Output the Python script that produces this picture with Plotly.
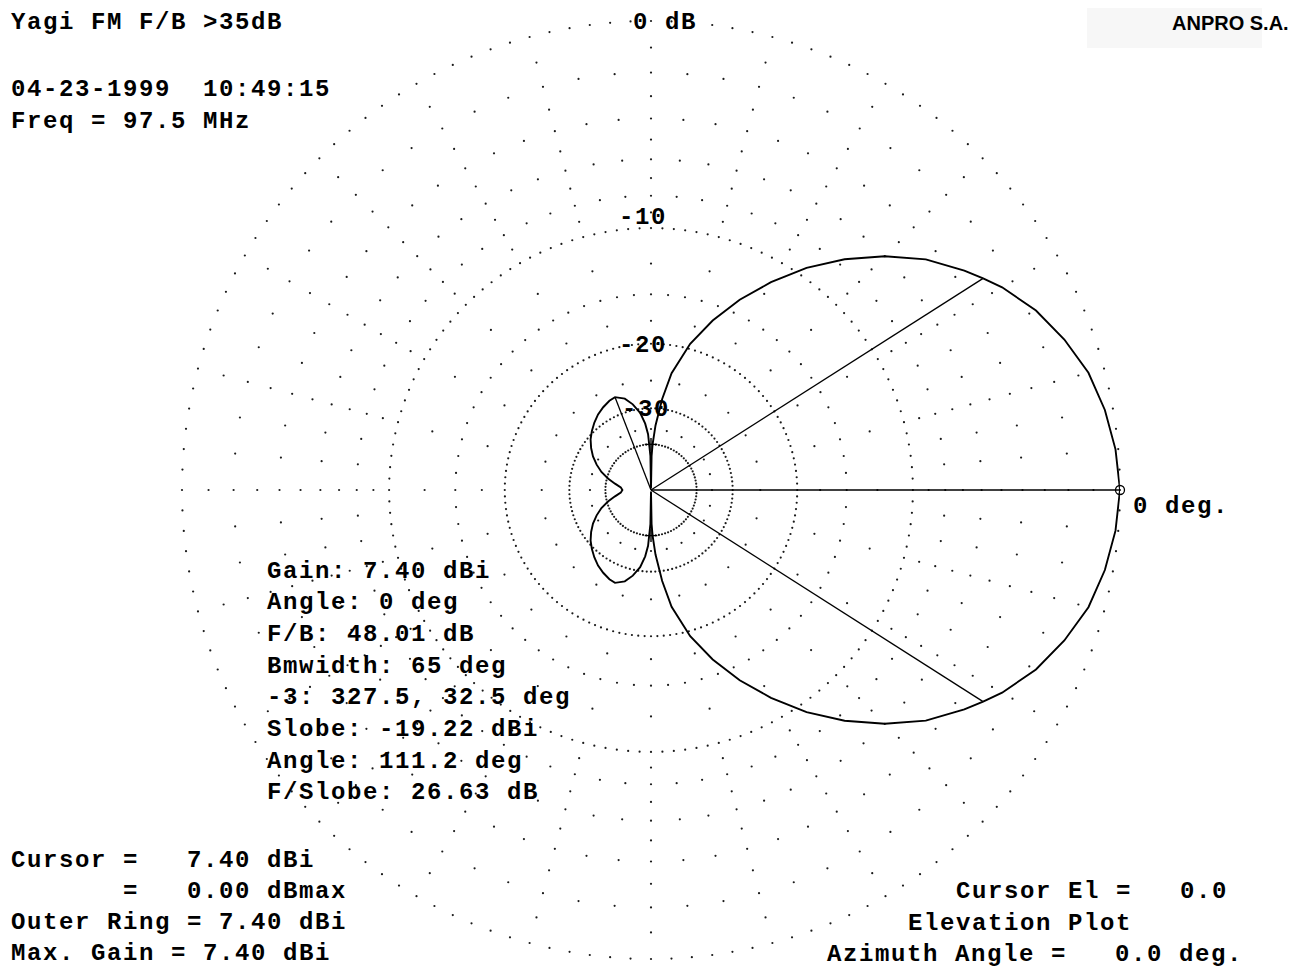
import plotly.graph_objects as go

W, H = 1291, 968

# ---------------- data ----------------
pattern_deg = [0, 5, 10, 15, 20, 25, 30, 32.5, 35, 40, 45, 50, 55, 60, 65, 70, 75, 80, 83, 86, 88, 89,
               90, 91, 93, 95, 98, 102, 106, 111.2, 115, 120, 125, 130, 135, 140, 145, 150, 155, 160,
               165, 170, 175, 180, 185, 190, 195, 200, 205, 210, 215, 220, 225, 230, 235, 240, 245,
               248.8, 254, 258, 262, 265, 267, 269, 270, 271, 272, 274, 277, 280, 285, 290, 295, 300,
               305, 310, 315, 320, 325, 327.5, 330, 335, 340, 345, 350, 355, 360]
pattern_db = [0.0, -0.1, -0.3, -0.6, -1.1, -1.7, -2.5, -3.0, -3.5, -4.6, -6.0, -7.6, -9.4, -11.5, -13.8,
              -16.4, -19.4, -23.6, -28.0, -34.0, -40.0, -45.0,
              -99.0, -45.0, -36.5, -33.5, -30.8, -28.8, -27.4, -26.6, -26.8, -27.3, -27.9, -28.7, -29.6,
              -30.6, -31.9, -33.4, -35.3, -37.5, -40.4, -43.8, -47.0, -48.0, -47.0, -43.8, -40.4, -37.5,
              -35.3, -33.4, -31.9, -30.6, -29.6, -28.7, -27.9, -27.3, -26.8,
              -26.6, -27.4, -28.8, -30.8, -33.5, -36.5, -45.0, -99.0, -45.0, -40.0, -34.0, -28.0, -23.6,
              -19.4, -16.4, -13.8, -11.5, -9.4, -7.6, -6.0, -4.6, -3.5, -3.0, -2.5, -1.7, -1.1, -0.6,
              -0.3, -0.1, 0.0]

gain_dbi = 7.40
cursor_angle = 0.0
half_power_angles = [327.5, 32.5]
half_power_db = -3.0
slobe_dbi = -19.22
slobe_angle = 111.2

ring_db = [0, -10, -20, -30, -40]
ring_labels = ["0 dB", "-10", "-20", "-30"]
arc_db = [-2, -4, -6, -8, -15]
spoke_db = [-1, -3, -5, -7, -9, -12.5, -17.5, -25, -35]
floor_marks_deg = [90, 270]
floor_db = -40

info_lines = ["Gain: 7.40 dBi", "Angle: 0 deg", "F/B: 48.01 dB", "Bmwidth: 65 deg",
              "-3: 327.5, 32.5 deg", "Slobe: -19.22 dBi", "Angle: 111.2 deg", "F/Slobe: 26.63 dB"]
header_lines = ["Yagi FM F/B >35dB", "04-23-1999  10:49:15", "Freq = 97.5 MHz"]
cursor_lines = ["Cursor =   7.40 dBi", "       =   0.00 dBmax", "Outer Ring = 7.40 dBi",
                "Max. Gain = 7.40 dBi"]
right_lines = ["Cursor El =   0.0", "Elevation Plot", "Azimuth Angle =   0.0 deg."]


# ARRL log scale: radius factor 0.89 per 2 dB
def arrl(db):
    return 0.89 ** (-db / 2.0)


fig = go.Figure()
DOT = "#1a1a1a"

# ---- dotted grid ----
ring_counts = [144, 144, 144, 120, 90]
for db, n in zip(ring_db, ring_counts):
    th = [i * 360.0 / n for i in range(n)]
    fig.add_trace(go.Scatterpolar(r=[arrl(db)] * n, theta=th, mode="markers",
                                  marker=dict(size=2.2, color=DOT), hoverinfo="skip"))
for db in arc_db:
    th = [i * 5.0 for i in range(72)]
    fig.add_trace(go.Scatterpolar(r=[arrl(db)] * 72, theta=th, mode="markers",
                                  marker=dict(size=2.2, color=DOT), hoverinfo="skip"))
sp_r, sp_t = [], []
for k in range(24):
    for db in spoke_db:
        sp_r.append(arrl(db))
        sp_t.append(k * 15.0)
fig.add_trace(go.Scatterpolar(r=sp_r, theta=sp_t, mode="markers",
                              marker=dict(size=2.2, color=DOT), hoverinfo="skip"))

# ---- pattern ----
fig.add_trace(go.Scatterpolar(r=[arrl(d) for d in pattern_db], theta=pattern_deg, mode="lines",
                              line=dict(color="black", width=1.9), hoverinfo="skip"))

# floor tick marks on the vertical axis
fig.add_trace(go.Scatterpolar(r=[arrl(floor_db)] * len(floor_marks_deg), theta=floor_marks_deg,
                              mode="markers",
                              marker=dict(symbol="cross-thin", size=9, color="black",
                                          line=dict(width=1.4, color="black")), hoverinfo="skip"))

# ---- cursor / beamwidth / sidelobe radials ----
for ang in half_power_angles:
    fig.add_trace(go.Scatterpolar(r=[0, arrl(half_power_db)], theta=[ang, ang], mode="lines",
                                  line=dict(color="black", width=1.3), hoverinfo="skip"))
slobe_rel = slobe_dbi - gain_dbi
fig.add_trace(go.Scatterpolar(r=[0, arrl(slobe_rel)], theta=[slobe_angle, slobe_angle], mode="lines",
                              line=dict(color="black", width=1.3), hoverinfo="skip"))
fig.add_trace(go.Scatterpolar(r=[0, arrl(0.0)], theta=[cursor_angle, cursor_angle], mode="lines",
                              line=dict(color="black", width=1.7), hoverinfo="skip"))
fig.add_trace(go.Scatterpolar(r=[arrl(0.0)], theta=[cursor_angle], mode="markers",
                              marker=dict(symbol="circle-open", size=9, color="black",
                                          line=dict(width=1.3)), hoverinfo="skip"))

# ---------------- layout ----------------
cx, cy, R = 651, 490, 469
fig.update_layout(
    width=W, height=H, autosize=False,
    margin=dict(l=0, r=0, t=0, b=0),
    paper_bgcolor="white", plot_bgcolor="white",
    showlegend=False, hovermode=False,
    polar=dict(
        domain=dict(x=[(cx - R) / W, (cx + R) / W], y=[1 - (cy + R) / H, 1 - (cy - R) / H]),
        bgcolor="white",
        radialaxis=dict(range=[0, 1], visible=False, showgrid=False),
        angularaxis=dict(visible=False, showgrid=False, rotation=0, direction="counterclockwise"),
    ),
)

MONO = "Liberation Mono"
FS = 24
LS = 1.6


def mono(s):
    return '<b><span style="letter-spacing:%.1fpx">%s</span></b>' % (LS, s.replace(" ", "\u00a0"))


def txt(s, x, y, anchor="left"):
    fig.add_annotation(text=mono(s), x=x / W, y=1 - y / H, xref="paper", yref="paper",
                       xanchor=anchor, yanchor="middle", showarrow=False,
                       font=dict(family=MONO, size=FS, color="black"))


for s, y in zip(header_lines, [23, 89, 121]):
    txt(s, 9, y)

for s, (x, y) in zip(ring_labels, [(631, 23), (617, 218), (617, 345), (620, 409)]):
    txt(s, x, y)

txt("0 deg.", 1131, 507)

for i, s in enumerate(info_lines):
    txt(s, 265, 571 + i * 31.7)

for i, s in enumerate(cursor_lines):
    txt(s, 9, 860 + i * 31.2)

txt(right_lines[0], 954, 891)
txt(right_lines[1], 906, 923)
txt(right_lines[2], 825, 954)

# company tag
fig.add_shape(type="rect", xref="paper", yref="paper", x0=1087 / W, x1=1262 / W,
              y0=1 - 48 / H, y1=1 - 8 / H, fillcolor="#f7f7f7", line=dict(width=0), layer="below")
fig.add_annotation(text="<b>ANPRO S.A.</b>", x=1291 / W, y=1 - 23 / H, xref="paper", yref="paper",
                   xanchor="right", yanchor="middle", showarrow=False,
                   font=dict(family="Liberation Sans", size=20, color="black"))

fig.write_html("out.html", config={"displayModeBar": False},
               post_script="document.body.style.margin='0';document.body.style.padding='0';")
